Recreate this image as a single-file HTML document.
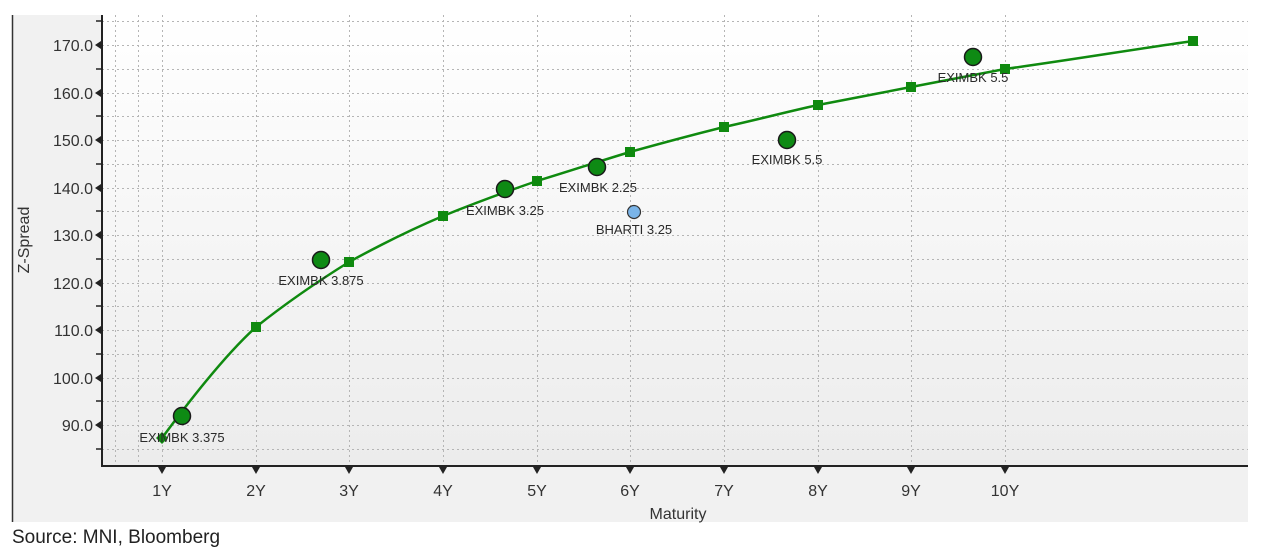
<!DOCTYPE html>
<html><head><meta charset="utf-8"><style>
html,body{margin:0;padding:0;background:#fff;width:1263px;height:556px;overflow:hidden}
svg{display:block}
text{font-family:"Liberation Sans","DejaVu Sans",sans-serif}
</style></head><body>
<svg width="1263" height="556" viewBox="0 0 1263 556">
<defs>
<linearGradient id="bg" x1="0" y1="0" x2="0" y2="1">
<stop offset="0" stop-color="#ffffff"/><stop offset="1" stop-color="#ececec"/>
</linearGradient>
</defs>
<rect x="12" y="15" width="1236" height="507" fill="#f1f1f1"/>
<line x1="12.5" y1="15" x2="12.5" y2="522" stroke="#333" stroke-width="1.5"/>
<rect x="102" y="15" width="1146" height="451" fill="url(#bg)"/>
<g stroke="#b5b5b5" stroke-width="1" stroke-dasharray="2,3" fill="none">
<line x1="102" x2="1248" y1="21.5" y2="21.5"/><line x1="102" x2="1248" y1="45.5" y2="45.5"/><line x1="102" x2="1248" y1="69.5" y2="69.5"/><line x1="102" x2="1248" y1="93.5" y2="93.5"/><line x1="102" x2="1248" y1="116.5" y2="116.5"/><line x1="102" x2="1248" y1="140.5" y2="140.5"/><line x1="102" x2="1248" y1="164.5" y2="164.5"/><line x1="102" x2="1248" y1="188.5" y2="188.5"/><line x1="102" x2="1248" y1="211.5" y2="211.5"/><line x1="102" x2="1248" y1="235.5" y2="235.5"/><line x1="102" x2="1248" y1="259.5" y2="259.5"/><line x1="102" x2="1248" y1="283.5" y2="283.5"/><line x1="102" x2="1248" y1="306.5" y2="306.5"/><line x1="102" x2="1248" y1="330.5" y2="330.5"/><line x1="102" x2="1248" y1="354.5" y2="354.5"/><line x1="102" x2="1248" y1="378.5" y2="378.5"/><line x1="102" x2="1248" y1="401.5" y2="401.5"/><line x1="102" x2="1248" y1="425.5" y2="425.5"/><line x1="102" x2="1248" y1="449.5" y2="449.5"/>
<line y1="15" y2="466" x1="115.5" x2="115.5"/><line y1="15" y2="466" x1="138.5" x2="138.5"/><line y1="15" y2="466" x1="162.5" x2="162.5"/><line y1="15" y2="466" x1="256.5" x2="256.5"/><line y1="15" y2="466" x1="349.5" x2="349.5"/><line y1="15" y2="466" x1="443.5" x2="443.5"/><line y1="15" y2="466" x1="537.5" x2="537.5"/><line y1="15" y2="466" x1="630.5" x2="630.5"/><line y1="15" y2="466" x1="724.5" x2="724.5"/><line y1="15" y2="466" x1="818.5" x2="818.5"/><line y1="15" y2="466" x1="911.5" x2="911.5"/><line y1="15" y2="466" x1="1005.5" x2="1005.5"/>
</g>
<line x1="102" y1="15" x2="102" y2="467" stroke="#222" stroke-width="2"/>
<line x1="101" y1="466" x2="1248" y2="466" stroke="#222" stroke-width="2"/>
<g fill="#222">
<polygon points="95,45 101,41 101,49"/><polygon points="95,93 101,89 101,97"/><polygon points="95,140 101,136 101,144"/><polygon points="95,188 101,184 101,192"/><polygon points="95,235 101,231 101,239"/><polygon points="95,283 101,279 101,287"/><polygon points="95,330 101,326 101,334"/><polygon points="95,378 101,374 101,382"/><polygon points="95,425 101,421 101,429"/>
<polygon points="158,467 166,467 162,474"/><polygon points="252,467 260,467 256,474"/><polygon points="345,467 353,467 349,474"/><polygon points="439,467 447,467 443,474"/><polygon points="533,467 541,467 537,474"/><polygon points="626,467 634,467 630,474"/><polygon points="720,467 728,467 724,474"/><polygon points="814,467 822,467 818,474"/><polygon points="907,467 915,467 911,474"/><polygon points="1001,467 1009,467 1005,474"/>
</g>
<g stroke="#222" stroke-width="1.5">
<line x1="96" x2="102" y1="21" y2="21"/><line x1="96" x2="102" y1="69" y2="69"/><line x1="96" x2="102" y1="116" y2="116"/><line x1="96" x2="102" y1="164" y2="164"/><line x1="96" x2="102" y1="211" y2="211"/><line x1="96" x2="102" y1="259" y2="259"/><line x1="96" x2="102" y1="306" y2="306"/><line x1="96" x2="102" y1="354" y2="354"/><line x1="96" x2="102" y1="401" y2="401"/><line x1="96" x2="102" y1="449" y2="449"/>
</g>
<g font-size="16" fill="#333" text-anchor="end">
<text x="93" y="51">170.0</text><text x="93" y="99">160.0</text><text x="93" y="146">150.0</text><text x="93" y="194">140.0</text><text x="93" y="241">130.0</text><text x="93" y="289">120.0</text><text x="93" y="336">110.0</text><text x="93" y="384">100.0</text><text x="93" y="431">90.0</text>
</g>
<g font-size="16" fill="#333" text-anchor="middle">
<text x="162" y="496">1Y</text><text x="256" y="496">2Y</text><text x="349" y="496">3Y</text><text x="443" y="496">4Y</text><text x="537" y="496">5Y</text><text x="630" y="496">6Y</text><text x="724" y="496">7Y</text><text x="818" y="496">8Y</text><text x="911" y="496">9Y</text><text x="1005" y="496">10Y</text>
<text x="678" y="519">Maturity</text>
<text transform="translate(29,240) rotate(-90)">Z-Spread</text>
</g>
<path d="M162,438 C190,400 225,355 256,327 C290,300 320,280 349,262 C380,245 410,230 443,216 C475,203 505,192 537,181 C570,171 600,161 630,152 C662,143 692,135 724,127 C756,120 786,112 818,105 C850,99 880,93 911,87 C943,81 973,75 1005,69 C1070,60 1130,50 1193,41" fill="none" stroke="#0f8a0f" stroke-width="2.5"/>
<g fill="#0f8a0f">
<polygon points="162,432 168,438 162,444 156,438"/>
<rect x="251" y="322" width="10" height="10"/><rect x="344" y="257" width="10" height="10"/><rect x="438" y="211" width="10" height="10"/><rect x="532" y="176" width="10" height="10"/><rect x="625" y="147" width="10" height="10"/><rect x="719" y="122" width="10" height="10"/><rect x="813" y="100" width="10" height="10"/><rect x="906" y="82" width="10" height="10"/><rect x="1000" y="64" width="10" height="10"/><rect x="1188" y="36" width="10" height="10"/>
</g>
<g fill="#0e8a14" stroke="#1a1a1a" stroke-width="1.5">
<circle cx="182" cy="416" r="8.5"/><circle cx="321" cy="260" r="8.5"/><circle cx="505" cy="189" r="8.5"/><circle cx="597" cy="167" r="8.5"/><circle cx="787" cy="140" r="8.5"/><circle cx="973" cy="57" r="8.5"/>
</g>
<circle cx="634" cy="212" r="6.5" fill="#7ab4e8" stroke="#333" stroke-width="1.2"/>
<g font-size="13" fill="#2a2a2a" text-anchor="middle">
<text x="182" y="442">EXIMBK 3.375</text><text x="321" y="285">EXIMBK 3.875</text><text x="505" y="215">EXIMBK 3.25</text><text x="598" y="192">EXIMBK 2.25</text><text x="634" y="234">BHARTI 3.25</text><text x="787" y="164">EXIMBK 5.5</text><text x="973" y="82">EXIMBK 5.5</text>
</g>
<text x="12" y="543" font-size="19" fill="#222" font-family="Liberation Sans, sans-serif">Source: MNI, Bloomberg</text>
</svg>
</body></html>
